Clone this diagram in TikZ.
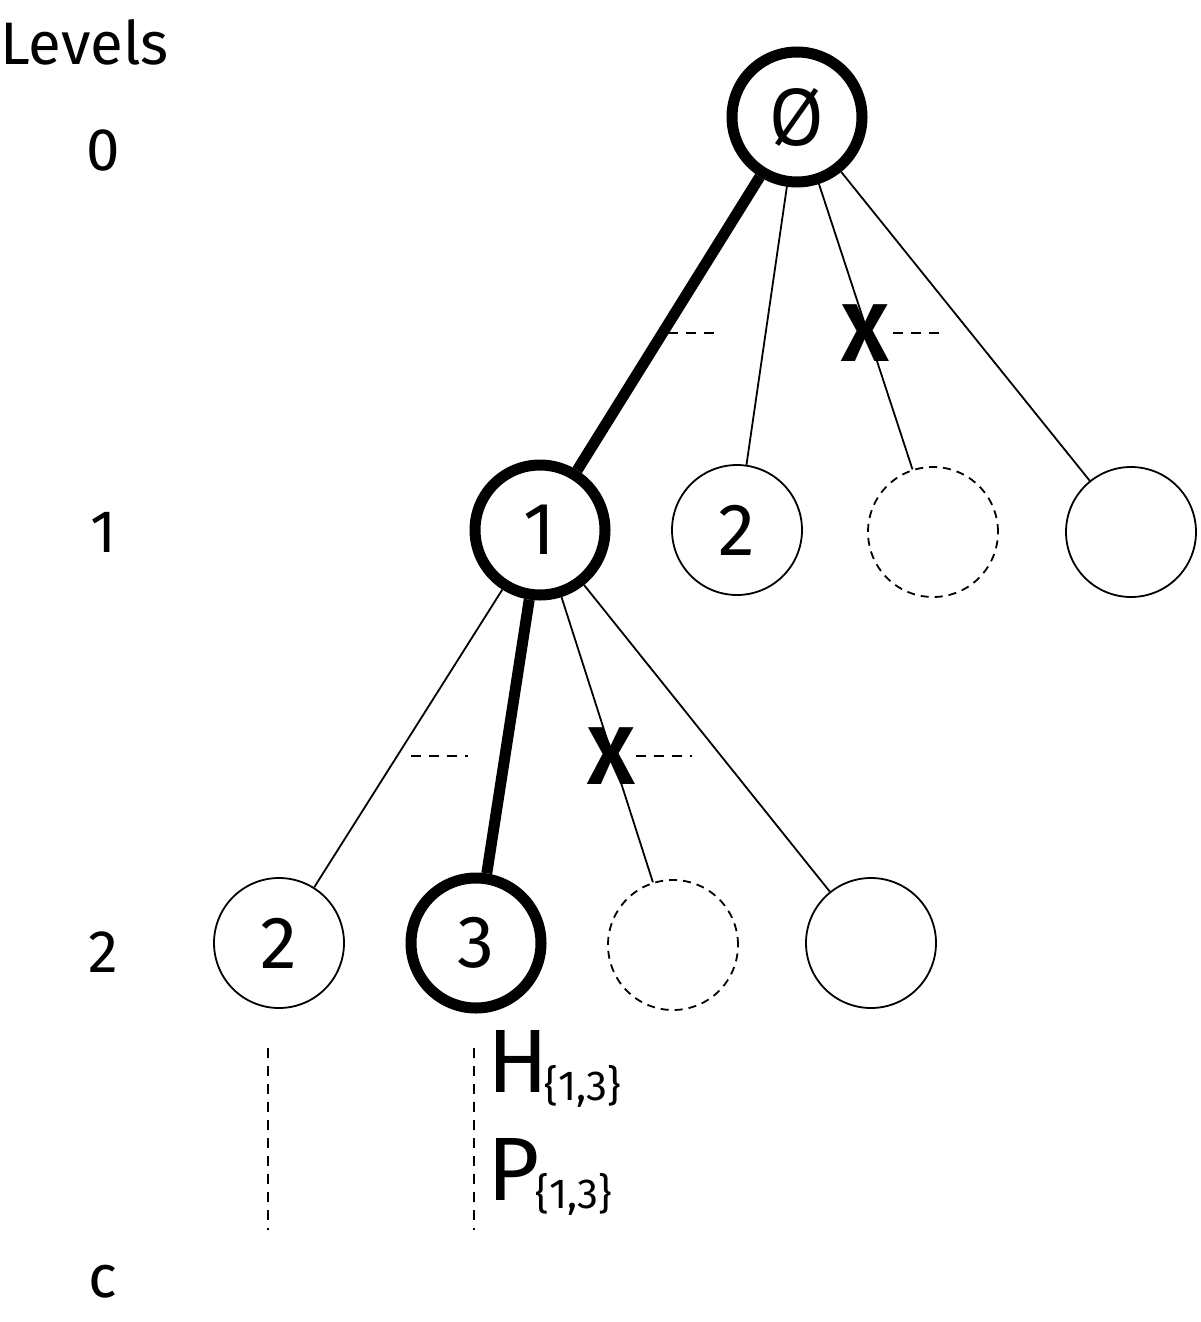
\documentclass[tikz,border=0pt]{standalone}
\usepackage{fontspec}
\setmainfont{Fira Sans}
\newfontfamily\ptsansfam{PT Sans}
\begin{document}
\begin{tikzpicture}[x=0.5pt,y=-0.5pt,
  vnode/.style={circle,draw,line width=0.9pt,minimum size=65pt,inner sep=0pt,font=\fontsize{37}{40}\selectfont},
  bnode/.style={vnode,line width=5.5pt},
  gnode/.style={vnode,dash pattern=on 4pt off 3pt},
  thinedge/.style={line width=0.9pt},
  boldedge/.style={line width=5.5pt},
  cutline/.style={dash pattern=on 5pt off 4pt,line width=0.8pt},
  lvl/.style={font=\fontsize{30}{34}\selectfont},
  xmark/.style={font=\fontsize{41}{42}\selectfont\bfseries,inner sep=0pt},
  lab/.style={font=\fontsize{45}{48}\selectfont,inner sep=0pt,anchor=base west}
]
\useasboundingbox (0,0) rectangle (1200,1322);
% level labels
\node[lvl,anchor=west,inner sep=0pt] (levels) at (0,42) {Levels};
\node[lvl] (l0) at (103,150) {0};
\node[lvl] (l1) at (103,532) {1};
\node[lvl] (l2) at (103,952) {2};
\node[lvl] (lc) at (103,1282) {c};
% nodes
\node[bnode,font=\ptsansfam\fontsize{40}{42}\selectfont] (root) at (797,117) {Ø};
\node[bnode] (a1) at (540,530) {1};
\node[vnode] (a2) at (737,530) {2};
\node[gnode] (a3) at (933,532) {};
\node[vnode] (a4) at (1131,532) {};
\node[vnode] (b2) at (279,943) {2};
\node[bnode] (b3) at (476,943) {3};
\node[gnode] (b4) at (673,945) {};
\node[vnode] (b5) at (871,943) {};
% edges
\draw[boldedge] (root) -- (a1);
\draw[thinedge] (root) -- (a2);
\draw[thinedge] (root) -- (a3);
\draw[thinedge] (root) -- (a4);
\draw[thinedge] (a1) -- (b2);
\draw[boldedge] (a1) -- (b3);
\draw[thinedge] (a1) -- (b4);
\draw[thinedge] (a1) -- (b5);
% cut marks
\node[xmark] (x1) at (865,333) {X};
\node[xmark] (x2) at (611,756) {X};
\coordinate (m1a) at (668,333); \coordinate (m1b) at (718,333);
\coordinate (m2a) at (893,333); \coordinate (m2b) at (943,333);
\coordinate (m3a) at (411,756); \coordinate (m3b) at (468,756);
\coordinate (m4a) at (636,756); \coordinate (m4b) at (692,756);
\draw[cutline] (m1a) -- (m1b);
\draw[cutline] (m2a) -- (m2b);
\draw[cutline] (m3a) -- (m3b);
\draw[cutline] (m4a) -- (m4b);
% vertical dashed lines
\coordinate (v1a) at (268,1048); \coordinate (v1b) at (268,1230);
\coordinate (v2a) at (474,1048); \coordinate (v2b) at (474,1230);
\draw[cutline] (v1a) -- (v1b);
\draw[cutline] (v2a) -- (v2b);
% labels
\node[lab] (H) at (487,1092) {H\kern-2pt{\fontsize{21}{24}\selectfont\raisebox{-4pt}{\{1,3\}}}};
\node[lab] (P) at (487,1200) {P\kern-2pt{\fontsize{21}{24}\selectfont\raisebox{-4pt}{\{1,3\}}}};
\end{tikzpicture}
\end{document}
